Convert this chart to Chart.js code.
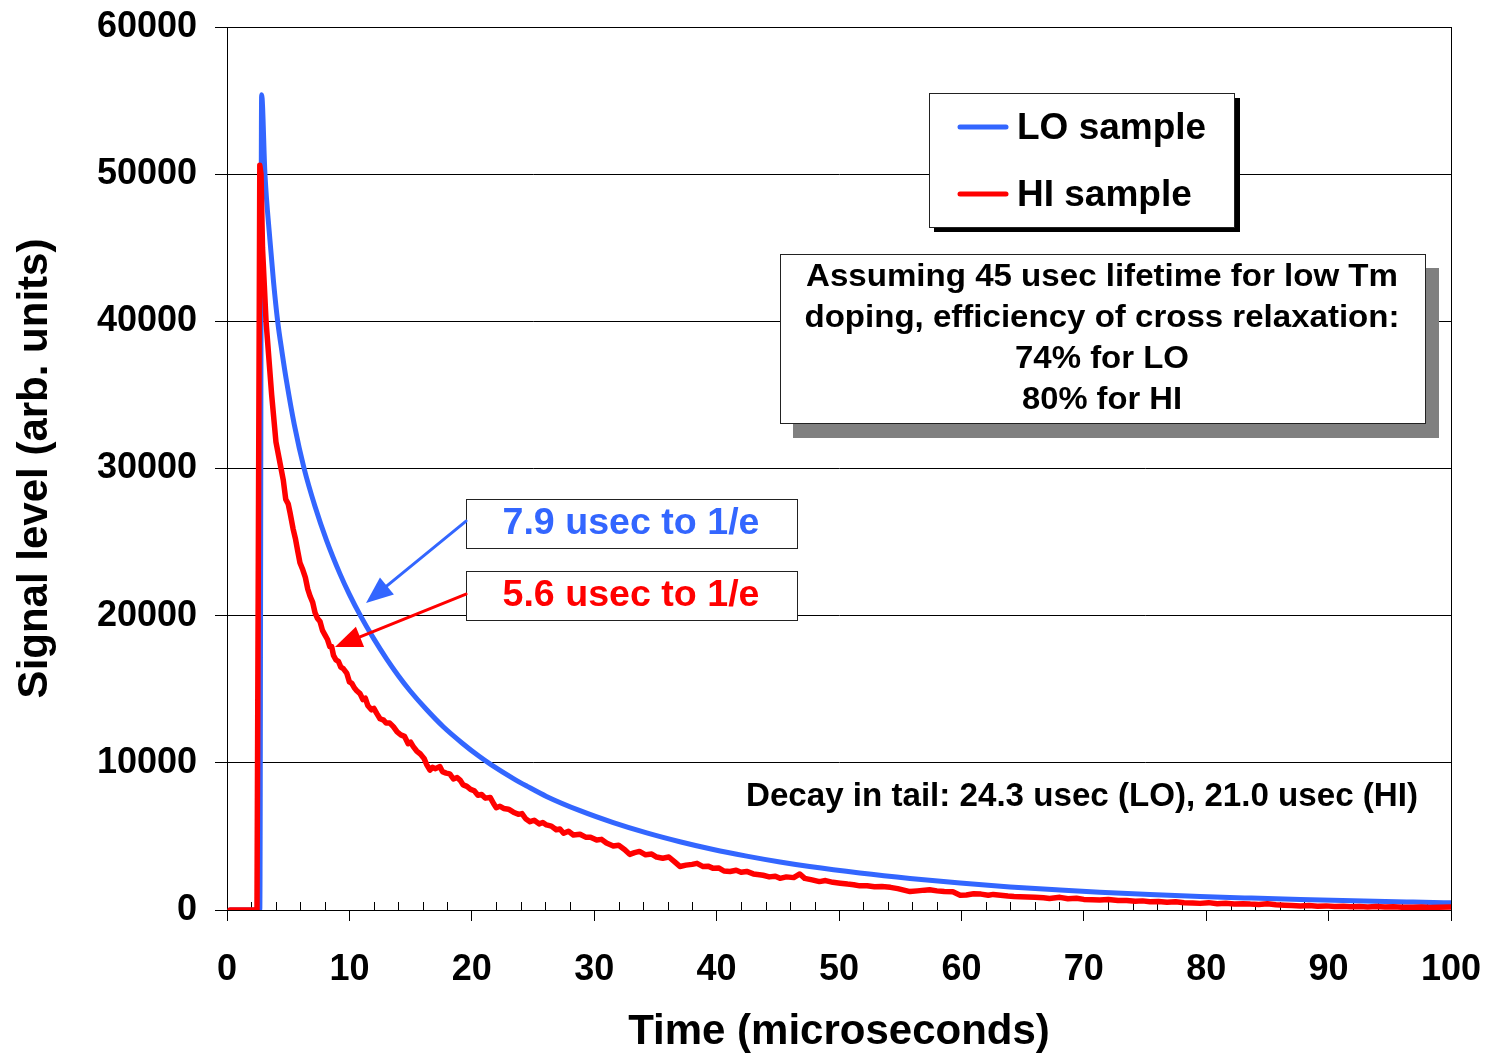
<!DOCTYPE html>
<html><head><meta charset="utf-8">
<script src="https://cdn.jsdelivr.net/npm/chart.js@4.4.1/dist/chart.umd.min.js"></script>
<style>html,body{margin:0;padding:0;background:#fff;overflow:hidden}</style>
</head><body>
<canvas id="c" width="1487" height="1056"></canvas>
<script>
// ---- data ----
const loTimes  = [0.25, 2.68, 2.83, 3.1, 3.5, 3.8, 4.14, 4.5, 4.87, 5.5, 6.3, 7.2, 8.14, 9.23, 10.0, 10.9, 12.0, 13.05, 14.0, 14.95, 16.3, 17.67, 19.2, 20.6, 21.6, 23.4, 24.5, 26.1, 28.84, 31.56, 34.29, 37.0, 39.73, 42.46, 45.18, 47.6, 51.7, 55.8, 59.9, 63.97, 68.05, 71.3, 75.4, 79.5, 83.6, 87.7, 92.0, 96.9, 100];
const loValues = [0, 0, 55400, 50000, 45600, 42700, 40000, 37880, 35900, 32970, 30000, 27400, 25100, 22840, 21450, 20000, 18420, 17050, 15920, 14900, 13620, 12450, 11350, 10440, 9860, 8930, 8420, 7720, 6750, 5940, 5240, 4640, 4110, 3660, 3260, 2950, 2510, 2140, 1830, 1570, 1360, 1210, 1055, 920, 810, 710, 625, 540, 490];

const hiTimes  = [0.25, 2.45, 2.68, 2.78, 2.9, 3.19, 3.65, 4.0, 4.3, 4.6, 4.8, 5.0, 5.15, 5.4, 5.6, 5.8, 5.96, 6.2, 6.4, 6.6, 6.8, 7.0, 7.19, 7.4, 7.6, 7.8, 8.0, 8.2, 8.4, 8.55, 8.7, 8.9, 9.1, 9.3, 9.5, 9.78, 10.0, 10.2, 10.4, 10.6, 10.87, 11.1, 11.3, 11.5, 11.8, 12.0, 12.23, 12.5, 12.8, 13.0, 13.3, 13.59, 13.9, 14.2, 14.5, 14.8, 15.0, 15.22, 15.5, 15.8, 16.1, 16.3, 16.58, 16.8, 17.0, 17.4, 17.6, 17.9, 18.2, 18.5, 18.8, 19.04, 19.3, 19.6, 19.9, 20.2, 20.5, 20.8, 21.1, 21.5, 21.8, 22.0, 22.3, 22.6, 23.0, 23.4, 23.8, 24.1, 24.4, 24.75, 25.1, 25.5, 25.8, 26.1, 26.5, 26.9, 27.2, 27.5, 27.9, 28.3, 28.84, 29.3, 29.7, 30.2, 30.6, 31.0, 31.56, 32.0, 32.5, 32.9, 33.3, 33.7, 34.2, 34.7, 35.1, 35.6, 36.1, 36.6, 37.0, 37.5, 38.0, 38.4, 38.9, 39.3, 39.73, 40.2, 40.6, 41.1, 41.6, 42.0, 42.46, 43.0, 43.5, 43.8, 44.3, 44.8, 45.18, 45.7, 46.3, 46.8, 47.2, 47.8, 48.4, 48.9, 49.5, 50.1, 50.7, 51.2, 51.7, 52.3, 52.9, 53.5, 54.2, 54.8, 55.3, 55.8, 56.4, 57.0, 57.4, 58.0, 58.6, 59.3, 59.9, 60.4, 61.0, 61.6, 62.2, 62.6, 63.2, 63.8, 64.3, 64.8, 65.4, 66.0, 66.7, 67.2, 68.05, 68.7, 69.4, 70.0, 70.7, 71.3, 72.0, 72.8, 73.5, 74.2, 74.8, 75.4, 76.1, 76.8, 77.5, 78.2, 78.9, 79.5, 80.2, 80.9, 81.6, 82.3, 83.0, 83.6, 84.3, 85.0, 85.7, 86.4, 87.0, 87.7, 88.4, 89.1, 89.8, 90.5, 91.2, 91.8, 92.5, 93.2, 93.9, 94.6, 95.3, 96.0, 96.9, 97.6, 98.3, 99.0, 100];
const hiValues = [0, 0, 50600, 50000, 45000, 40000, 35000, 31800, 30500, 29200, 27900, 27600, 27000, 25900, 25200, 24300, 23600, 23100, 22600, 21800, 21300, 20900, 20200, 19800, 19600, 19000, 18700, 18400, 17900, 17900, 17300, 17000, 16900, 16500, 16400, 16100, 15500, 15400, 15100, 14900, 14700, 14300, 14400, 13900, 13600, 13700, 13360, 13000, 12900, 12700, 12700, 12460, 12100, 11900, 11800, 11300, 11400, 11100, 10800, 10600, 10300, 9900, 9510, 9700, 9600, 9740, 9400, 9300, 9250, 8900, 9000, 8830, 8500, 8400, 8200, 8100, 7800, 7850, 7600, 7650, 7200, 6950, 7050, 6900, 6850, 6650, 6500, 6550, 6200, 6000, 6100, 5850, 5950, 5780, 5700, 5450, 5500, 5210, 5350, 5100, 5150, 4950, 4950, 4760, 4800, 4550, 4350, 4400, 4100, 3780, 3900, 3980, 3750, 3800, 3600, 3520, 3600, 3250, 2960, 3050, 3100, 3170, 2950, 2980, 2830, 2850, 2650, 2620, 2700, 2560, 2620, 2450, 2400, 2360, 2250, 2300, 2150, 2250, 2200, 2450, 2150, 2050, 1930, 2000, 1880, 1820, 1760, 1720, 1640, 1650, 1580, 1600, 1540, 1450, 1350, 1250, 1300, 1350, 1370, 1300, 1250, 1240, 1000, 1020, 1100, 1080, 1000, 1060, 1000, 950, 920, 900, 880, 860, 830, 780, 860, 760, 800, 720, 700, 680, 720, 640, 650, 600, 620, 560, 580, 520, 560, 500, 480, 450, 500, 430, 460, 410, 430, 400, 380, 420, 350, 320, 300, 270, 300, 260, 280, 240, 250, 225, 240, 210, 230, 200, 220, 190, 180, 200, 170, 190, 200];

const seriesNames = ['LO sample', 'HI sample'];
const xTickValues = [0, 10, 20, 30, 40, 50, 60, 70, 80, 90, 100];
const yTickValues = [0, 10000, 20000, 30000, 40000, 50000, 60000];
const xMinorStep = 2;
const xTitle = 'Time (microseconds)';
const yTitle = 'Signal level (arb. units)';
const noteLines = ['Assuming 45 usec lifetime for low Tm', 'doping, efficiency of cross relaxation:', '74% for LO', '80% for HI'];
const tailNote = 'Decay in tail: 24.3 usec (LO), 21.0 usec (HI)';
const callouts = ['7.9 usec to 1/e', '5.6 usec to 1/e'];
// arrow start/tip in data units (time, signal)
const arrowFrom = [[19.53, 26430], [19.53, 21470]];
const arrowTip  = [[11.36, 20860], [8.82, 17870]];

// ---- styling ----
const BLUE = '#3366FF', RED = '#FF0000';
const FAM = '"Liberation Sans", Arial, Helvetica, sans-serif';
const NARROW = '"Liberation Sans Narrow", "Arial Narrow", "Liberation Sans", Arial, sans-serif';

function pts(ts, vs) { return ts.map((t, i) => ({ x: t, y: vs[i] })); }

function fitText(ctx, text, cx, cy, font, targetW, color) {
  ctx.save();
  ctx.font = font;
  ctx.fillStyle = color;
  ctx.textAlign = 'center';
  ctx.textBaseline = 'middle';
  const w = ctx.measureText(text).width;
  const s = targetW ? targetW / w : 1;
  ctx.translate(cx, cy);
  ctx.scale(s, 1);
  ctx.fillText(text, 0, 0);
  ctx.restore();
}

function arrow(ctx, x1, y1, x2, y2, color) {
  const ang = Math.atan2(y2 - y1, x2 - x1);
  const L = 27, W = 11;
  const bx = x2 - L * Math.cos(ang), by = y2 - L * Math.sin(ang);
  ctx.save();
  ctx.strokeStyle = color; ctx.fillStyle = color; ctx.lineWidth = 3;
  ctx.beginPath(); ctx.moveTo(x1, y1); ctx.lineTo(bx + 6 * Math.cos(ang), by + 6 * Math.sin(ang)); ctx.stroke();
  ctx.beginPath();
  ctx.moveTo(x2, y2);
  ctx.lineTo(bx + W * Math.sin(ang), by - W * Math.cos(ang));
  ctx.lineTo(bx - W * Math.sin(ang), by + W * Math.cos(ang));
  ctx.closePath(); ctx.fill();
  ctx.restore();
}

const deco = {
  id: 'deco',
  beforeDatasetsDraw(chart) {
    const ctx = chart.ctx, a = chart.chartArea, xs = chart.scales.x;
    ctx.save();
    ctx.strokeStyle = '#000'; ctx.lineWidth = 1;
    ctx.beginPath();
    for (let v = xs.min + xMinorStep; v < xs.max; v += xMinorStep) {
      if (Math.abs(v % 10) < 1e-9) continue;
      const px = Math.round(xs.getPixelForValue(v)) + 0.5;
      ctx.moveTo(px, a.bottom); ctx.lineTo(px, a.bottom - 8);
    }
    ctx.stroke();
    ctx.strokeRect(Math.round(a.left) + 0.5, Math.round(a.top) + 0.5, Math.round(a.right - a.left), Math.round(a.bottom - a.top));
    ctx.restore();
  },
  afterDraw(chart) {
    const ctx = chart.ctx, xs = chart.scales.x, ys = chart.scales.y;
    const ds = chart.data.datasets;
    ctx.save();
    // legend box with black shadow
    ctx.fillStyle = '#000'; ctx.fillRect(934, 98, 306, 134);
    ctx.fillStyle = '#fff'; ctx.fillRect(929, 93, 305, 134);
    ctx.strokeStyle = '#222'; ctx.lineWidth = 1; ctx.strokeRect(929.5, 93.5, 305, 134);
    const legY = [127, 194];
    ds.forEach((d, i) => {
      ctx.strokeStyle = d.borderColor; ctx.lineWidth = 5; ctx.lineCap = 'round';
      ctx.beginPath(); ctx.moveTo(960, legY[i]); ctx.lineTo(1006, legY[i]); ctx.stroke();
      ctx.fillStyle = '#000'; ctx.font = 'bold 37px ' + FAM; ctx.textAlign = 'left'; ctx.textBaseline = 'middle';
      ctx.fillText(d.label, 1017, legY[i] + 2);
    });
    // assumption note box with grey shadow
    ctx.fillStyle = '#808080'; ctx.fillRect(793, 268, 646, 170);
    ctx.fillStyle = '#fff'; ctx.fillRect(780, 254, 645, 169);
    ctx.strokeStyle = '#222'; ctx.lineWidth = 1; ctx.strokeRect(780.5, 254.5, 645, 169);
    const noteW = [592, 595, 174, 160];
    noteLines.forEach((t, i) => fitText(ctx, t, 1102, 277 + 41 * i, 'bold 32px ' + NARROW, noteW[i], '#000'));
    // tail note
    fitText(ctx, tailNote, 1082, 797, 'bold 33px ' + FAM, 672, '#000');
    // callout boxes and arrows
    const cCol = [BLUE, RED];
    const boxY = [499, 571];
    callouts.forEach((t, i) => {
      ctx.fillStyle = '#fff'; ctx.fillRect(466, boxY[i], 331, 49);
      ctx.strokeStyle = '#222'; ctx.lineWidth = 1; ctx.strokeRect(466.5, boxY[i] + 0.5, 331, 49);
      fitText(ctx, t, 631, boxY[i] + 25, 'bold 37px ' + FAM, 257, cCol[i]);
      arrow(ctx, xs.getPixelForValue(arrowFrom[i][0]), ys.getPixelForValue(arrowFrom[i][1]),
        xs.getPixelForValue(arrowTip[i][0]), ys.getPixelForValue(arrowTip[i][1]), cCol[i]);
    });
    ctx.restore();
  }
};

const tickFont = { family: FAM, size: 36, weight: 'bold' };
const titleFont = { family: FAM, size: 42, weight: 'bold', lineHeight: 1.1 };

new Chart(document.getElementById('c'), {
  type: 'line',
  data: {
    datasets: [
      { label: seriesNames[0], data: pts(loTimes, loValues), borderColor: BLUE, backgroundColor: BLUE,
        borderWidth: 5, pointRadius: 0, cubicInterpolationMode: 'monotone', borderCapStyle: 'round', borderJoinStyle: 'round', order: 1 },
      { label: seriesNames[1], data: pts(hiTimes, hiValues), borderColor: RED, backgroundColor: RED,
        borderWidth: 5.5, pointRadius: 0, tension: 0, borderCapStyle: 'round', borderJoinStyle: 'round', order: 0 }
    ]
  },
  options: {
    responsive: false, animation: false, devicePixelRatio: 1,
    layout: { padding: { left: 0, top: 27, right: 36, bottom: 0 } },
    plugins: { legend: { display: false }, tooltip: { enabled: false } },
    scales: {
      x: {
        type: 'linear', min: 0, max: 100,
        afterBuildTicks: s => { s.ticks = xTickValues.map(v => ({ value: v })); },
        afterFit: s => { s.height = 146; s.paddingLeft = 0; s.paddingRight = 0; },
        ticks: { font: tickFont, color: '#000', padding: 27, maxRotation: 0 },
        grid: { drawOnChartArea: false, drawTicks: true, tickLength: 11, color: '#000', lineWidth: 1 },
        border: { display: true, color: '#000', width: 1 },
        title: { display: true, text: xTitle, font: titleFont, color: '#000', padding: { top: 0, bottom: 0 } }
      },
      y: {
        type: 'linear', min: 0, max: 60000,
        afterBuildTicks: s => { s.ticks = yTickValues.map(v => ({ value: v })); },
        afterFit: s => { s.width = 227; s.paddingTop = 0; s.paddingBottom = 0; },
        ticks: { font: tickFont, color: '#000', padding: 18, callback: v => String(v) },
        grid: { drawOnChartArea: true, drawTicks: true, tickLength: 12, color: '#000', lineWidth: 1 },
        border: { display: true, color: '#000', width: 1 },
        title: { display: true, text: yTitle, font: titleFont, color: '#000', padding: { top: 12, bottom: 0 } }
      }
    }
  },
  plugins: [deco]
});
</script>
</body></html>
